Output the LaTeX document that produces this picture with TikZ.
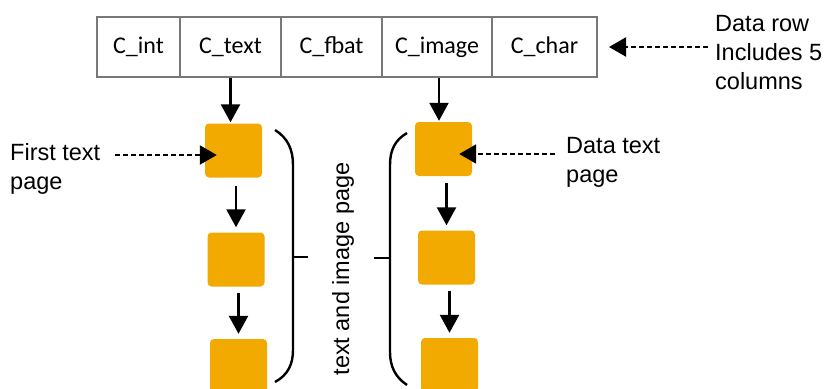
\documentclass[tikz,border=0pt]{standalone}
\usepackage{fontspec}
\setmainfont{Liberation Sans}
\newfontfamily\cellfont{Carlito}
\usetikzlibrary{arrows.meta}
\definecolor{pagefill}{RGB}{242,169,0}
\definecolor{cellgray}{RGB}{120,120,120}
\tikzset{
  cellbox/.style={draw=cellgray, line width=2pt, minimum height=60pt, inner sep=0pt, font=\cellfont\fontsize{24}{26}\selectfont},
  pagebox/.style={fill=pagefill, rounded corners=4pt, minimum width=57pt, minimum height=54pt, inner sep=0pt},
  solidarrow/.style={line width=2.4pt, -{Triangle[length=18pt,width=19pt]}},
  dasharrow/.style={line width=2.2pt, dash pattern=on 5pt off 3pt, -{Triangle[length=17pt,width=19pt]}},
  label/.style={font=\fontsize{23.5}{29}\selectfont, align=left, inner sep=0pt},
  bracepath/.style={line width=2.4pt}
}
\begin{document}
\begin{tikzpicture}[x=1pt,y=-1pt]
\useasboundingbox (0,0) rectangle (826,388);
% table cells
\node[cellbox, minimum width=83pt] (cint) at (138.5,47) {C\_int};
\node[cellbox, minimum width=101pt] (ctext) at (230.5,47) {C\_text};
\node[cellbox, minimum width=101pt] (cfbat) at (331.5,47) {C\_fbat};
\node[cellbox, minimum width=110pt] (cimage) at (437,47) {C\_image};
\node[cellbox, minimum width=105pt] (cchar) at (544.5,47) {C\_char};
% left pages
\node[pagebox] (l1) at (233.5,150.5) {};
\node[pagebox] (l2) at (236,259.5) {};
\node[pagebox] (l3) at (238.5,366) {};
% right pages
\node[pagebox] (r1) at (443.5,149) {};
\node[pagebox] (r2) at (446.5,257.5) {};
\node[pagebox] (r3) at (449.5,365) {};
% vertical arrows
\draw[solidarrow, shorten >=1pt] (ctext.south) -- (ctext.south |- l1.north);
\draw[solidarrow, shorten <=8pt, shorten >=5pt] (l1.south -| l2.north) -- (l2.north);
\draw[solidarrow, shorten <=6pt, shorten >=5pt] (l2.south -| l3.north) -- (l3.north);
\coordinate (ci) at ([xshift=2pt]cimage.south);
\draw[solidarrow, shorten >=1pt] (ci) -- (ci |- r1.north);
\draw[solidarrow, shorten <=7pt, shorten >=5pt] (r1.south -| r2.north) -- (r2.north);
\draw[solidarrow, shorten <=6pt, shorten >=5pt] (r2.south -| r3.north) -- (r3.north);
% labels
\node[label, anchor=north west] (lab1) at (10,143) {First text\\page};
\node[label, anchor=north west] (lab2) at (566,137) {Data text\\page};
\node[label, anchor=north west] (lab3) at (715,15) {Data row\\Includes 5\\columns};
\coordinate (d1s) at (115,155);
\coordinate (d2s) at (555,154);
\coordinate (d3s) at (708,47);
\draw[dasharrow] (d1s) -- ([xshift=12pt]d1s -| l1.west);
\draw[dasharrow] (d2s) -- ([xshift=-13pt]d2s -| r1.east);
\draw[dasharrow, shorten >=11pt] (d3s) -- (cchar.east);
% braces
\draw[bracepath] (275,130) .. controls (288,138) and (293,150) .. (293,165) -- (293,350) .. controls (293,364) and (288,375) .. (275,382);
\draw[bracepath] (293,257) -- (308,257);
\draw[bracepath] (407,133) .. controls (395,140) and (390,150) .. (390,165) -- (390,352) .. controls (390,366) and (395,377) .. (407,385);
\draw[bracepath] (374,258) -- (390,258);
\node[label, rotate=90] (vt) at (343,269) {text and image page};
\end{tikzpicture}
\end{document}
